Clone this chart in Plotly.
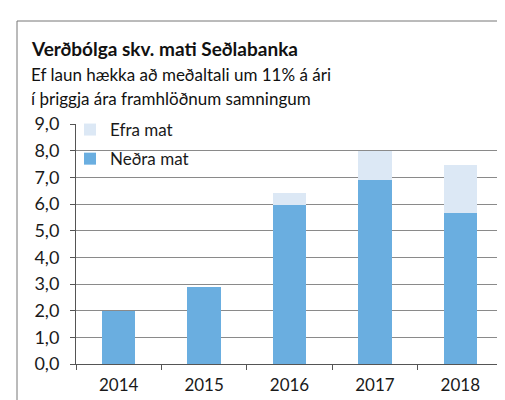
import plotly.graph_objects as go

years = ["2014", "2015", "2016", "2017", "2018"]
nedra_mat = [2.0, 2.9, 5.95, 6.9, 5.65]
efra_mat_extra = [0, 0, 0.45, 1.1, 1.8]
y_ticks = [0, 1, 2, 3, 4, 5, 6, 7, 8, 9]

title = "Verðbólga skv. mati Seðlabanka"
sub1 = "Ef laun hækka að meðaltali um 11% á ári"
sub2 = "í þriggja ára framhlöðnum samningum"

W, H = 505, 400
L, R, T, B = 68, 10, 116, 44
pw, ph = W - L - R, H - T - B

def px(x):
    return (x - L) / pw

def py(y):
    return (H - B - y) / ph

FONT = "Lato"

fig = go.Figure()
fig.add_trace(go.Bar(x=years, y=nedra_mat, name="Neðra mat",
                     marker=dict(color="#6aaee0", line=dict(width=0)),
                     legendgroup="a", legendrank=2))
fig.add_trace(go.Bar(x=years, y=efra_mat_extra, name="Efra mat",
                     marker=dict(color="#dce8f5", line=dict(width=0)),
                     legendgroup="b", legendrank=1))

fig.update_layout(
    width=W, height=H,
    margin=dict(l=L, r=R, t=T, b=B),
    barmode="stack", bargap=0.61,
    separators=", ",
    paper_bgcolor="white", plot_bgcolor="white",
    font=dict(family=FONT, color="#1a1a1a", size=16),
    showlegend=True,
    legend=dict(x=px(62), y=py(104), xanchor="left", yanchor="top",
                traceorder="grouped", tracegroupgap=4, itemwidth=30,
                bgcolor="rgba(0,0,0,0)", font=dict(size=17, family=FONT)),
    xaxis=dict(showgrid=False, showline=True, linecolor="#555", linewidth=1,
               ticks="outside", tickson="boundaries", ticklen=5, tickcolor="#555",
               ticklabelstandoff=6,
               tickfont=dict(size=17, family=FONT)),
    yaxis=dict(range=[0, 9], tickvals=y_ticks, tickformat=".1f",
               showgrid=True, gridcolor="#8a8a8a", gridwidth=1,
               showline=True, linecolor="#555", linewidth=1,
               ticks="outside", ticklen=5, tickcolor="#555",
               ticklabelstandoff=7,
               tickfont=dict(size=18, family=FONT), zeroline=False),
)

fig.add_annotation(text="<b>" + title + "</b>", xref="paper", yref="paper",
                   x=px(21), y=py(40), xanchor="left", yanchor="middle",
                   showarrow=False, font=dict(size=19, family=FONT, color="#111"))
fig.add_annotation(text=sub1, xref="paper", yref="paper",
                   x=px(21), y=py(66), xanchor="left", yanchor="middle",
                   showarrow=False, font=dict(size=17, family=FONT, color="#111"))
fig.add_annotation(text=sub2, xref="paper", yref="paper",
                   x=px(21), y=py(91), xanchor="left", yanchor="middle",
                   showarrow=False, font=dict(size=17, family=FONT, color="#111"))

fig.add_shape(type="rect", xref="paper", yref="paper",
              x0=px(9), x1=px(520), y0=py(396), y1=py(13),
              line=dict(color="#777", width=1), layer="below")

fig.write_html("out.html")
